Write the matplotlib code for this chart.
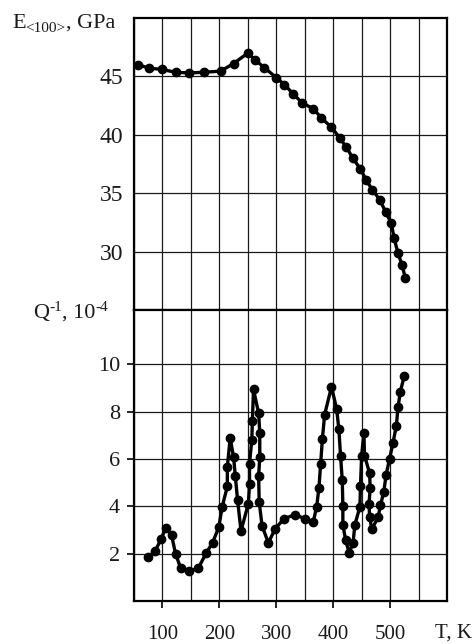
import numpy as np
import matplotlib.pyplot as plt
from matplotlib.ticker import MultipleLocator

plt.rcParams['font.family'] = ['Liberation Serif', 'DejaVu Serif']

# Young's modulus E<100> vs temperature
t_e = [57, 77, 99, 123, 147, 173, 202, 225, 250, 263, 279, 300, 314, 330, 346,
       365, 379, 397, 412, 423, 434, 448, 458, 469, 482, 492, 502, 507, 514, 521, 527]
e_mod = [46.0, 45.7, 45.6, 45.35, 45.3, 45.35, 45.45, 46.1, 47.0, 46.4, 45.75,
         44.9, 44.3, 43.5, 42.7, 42.25, 41.45, 40.65, 39.7, 38.95, 38.05, 37.05,
         36.15, 35.25, 34.45, 33.4, 32.45, 31.15, 29.85, 28.85, 27.7]

# internal friction Q^-1 vs temperature
t_q = [74, 87, 98, 106, 116, 123, 132, 146, 163, 177, 188, 199, 205, 214, 214,
       219, 225, 228, 232, 238, 251, 253, 253, 257, 258, 260, 269, 271, 271, 269,
       270, 275, 286, 298, 313, 333, 350, 365, 371, 375, 378, 381, 385, 397, 406,
       410, 413, 416, 417, 417, 422, 428, 435, 438, 447, 448, 450, 454, 455, 464,
       465, 463, 464, 468, 479, 483, 489, 493, 499, 505, 511, 514, 518, 525]
q_inv = [1.84, 2.1, 2.64, 3.1, 2.78, 2.0, 1.39, 1.25, 1.39, 2.03, 2.46, 3.12,
         3.99, 4.84, 5.67, 6.89, 6.08, 5.28, 4.27, 2.96, 4.12, 4.94, 5.81, 6.81,
         7.59, 8.95, 7.93, 7.11, 6.08, 5.28, 4.19, 3.18, 2.46, 3.04, 3.47, 3.65,
         3.48, 3.35, 3.99, 4.79, 5.81, 6.84, 7.88, 9.05, 8.13, 7.26, 6.11, 5.1,
         4.02, 3.21, 2.57, 2.03, 2.46, 3.21, 3.99, 4.88, 6.15, 7.11, 6.15, 5.41,
         4.76, 4.12, 3.54, 3.04, 3.54, 4.04, 4.62, 5.34, 6.0, 6.67, 7.41, 8.2,
         8.84, 9.53]

x_labels = [100, 200, 300, 400, 500]
e_ticks = [30, 35, 40, 45]
q_ticks = [2, 4, 6, 8, 10]

W, H = 476, 644
fig = plt.figure(figsize=(W / 100, H / 100), dpi=100)
ax1 = fig.add_axes([134 / W, 1 - 310 / H, 313 / W, 292 / H])
ax2 = fig.add_axes([134 / W, 1 - 601 / H, 313 / W, 291 / H], sharex=ax1)

txt = '#1a1a1a'
for ax in (ax1, ax2):
    ax.set_xlim(50, 600)
    ax.set_xticks(x_labels)
    ax.xaxis.set_minor_locator(MultipleLocator(50))
    ax.grid(True, which='both', axis='x', color='0.1', lw=0.9)
    ax.grid(True, which='major', axis='y', color='0.1', lw=0.9)
    ax.tick_params(which='minor', length=0)
    for s in ax.spines.values():
        s.set_linewidth(1.6)
        s.set_color('black')
    ax.set_axisbelow(True)

# top panel
ax1.plot(t_e, e_mod, color='black', lw=2.4, marker='o', ms=6)
ax1.set_ylim(25, 50)
ax1.set_yticks(e_ticks)
ax1.tick_params(axis='y', length=0, pad=8, labelsize=17, labelcolor=txt)
ax1.tick_params(axis='x', length=0, labelbottom=False)

# bottom panel
ax2.plot(t_q, q_inv, color='black', lw=2.4, marker='o', ms=6)
ax2.set_ylim(0, 12.3)
ax2.set_yticks(q_ticks)
ax2.tick_params(axis='y', direction='out', length=5, width=1.2, pad=5,
                labelsize=16, labelcolor=txt)
ax2.tick_params(axis='x', direction='out', length=5, width=1.2, pad=12,
                labelsize=15, labelcolor=txt)


def label(x_px, y_px, pieces):
    # pieces: (text, fontsize, vertical shift in px); baseline at y_px
    r = fig.canvas.get_renderer()
    x = x_px
    for s, size, dy in pieces:
        t = fig.text(x / W, 1 - (y_px - dy) / H, s, fontsize=size, color=txt,
                     ha='left', va='baseline')
        x += t.get_window_extent(r).width


label(12, 28, [('E', 16, 0), ('<100>', 11, -4), (', GPa', 16, 0)])
label(33, 318, [('Q', 16, 0), ('-1', 11, 7), (', 10', 16, 0), ('-4', 11, 7)])
fig.text(435 / W, 1 - 633 / H, 'T, K', fontsize=15, color=txt,
         ha='left', va='center')

fig.savefig('out.png', dpi=100)
